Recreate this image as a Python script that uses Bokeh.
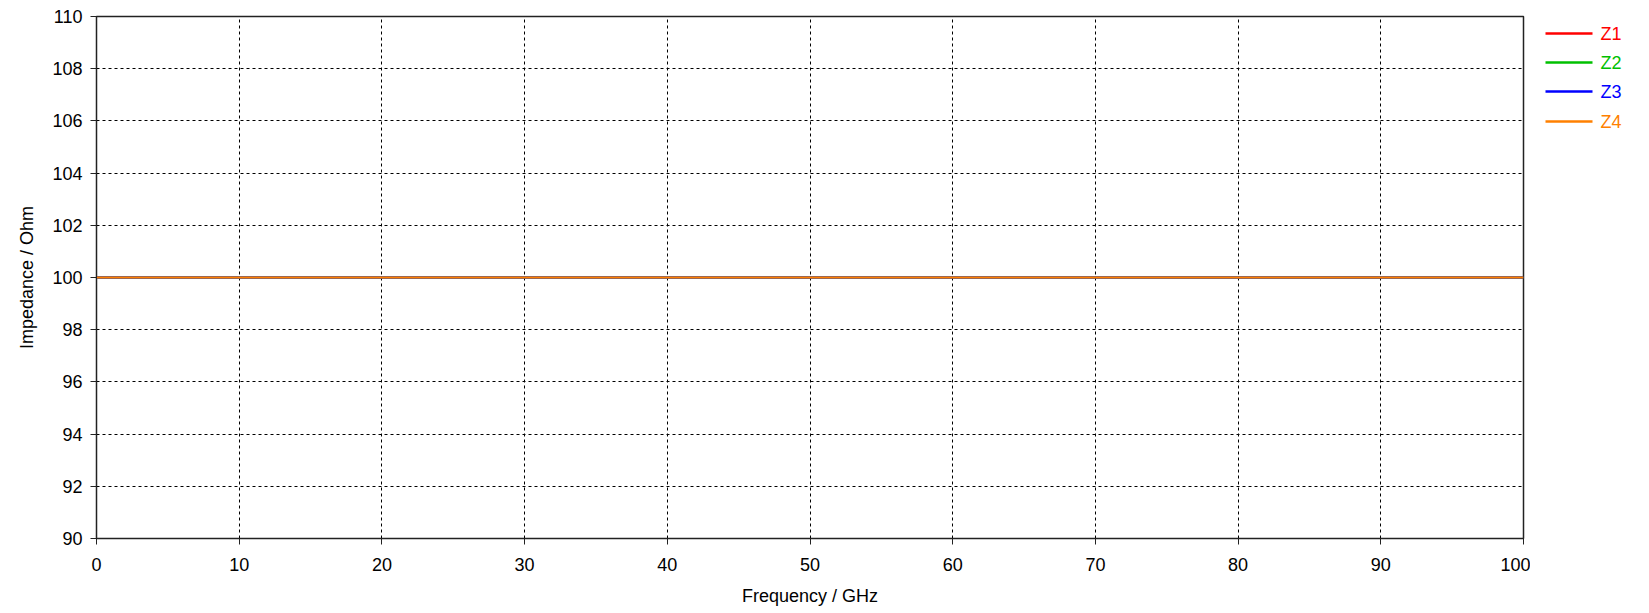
from bokeh.plotting import figure
from bokeh.models import Range1d, FixedTicker, ColumnDataSource
from bokeh.layouts import row
from bokeh.embed import file_html
from bokeh.resources import INLINE
from bokeh.core.properties import value

# ---- data ----
freq_ghz = [0, 10, 20, 30, 40, 50, 60, 70, 80, 90, 100]
z1 = [100.0, 100.0, 100.0, 100.0, 100.0, 100.0, 100.0, 100.0, 100.0, 100.0, 100.0]
z2 = [100.0, 100.0, 100.0, 100.0, 100.0, 100.0, 100.0, 100.0, 100.0, 100.0, 100.0]
z3 = [100.0, 100.0, 100.0, 100.0, 100.0, 100.0, 100.0, 100.0, 100.0, 100.0, 100.0]
z4 = [100.0, 100.0, 100.0, 100.0, 100.0, 100.0, 100.0, 100.0, 100.0, 100.0, 100.0]
series_names = ["Z1", "Z2", "Z3", "Z4"]
series_colors = ["#FF0000", "#00C000", "#0000FF", "#FF8000"]
x_ticks = [0, 10, 20, 30, 40, 50, 60, 70, 80, 90, 100]
y_ticks = [90, 92, 94, 96, 98, 100, 102, 104, 106, 108, 110]

FONT = "Liberation Sans"
FS = "18px"

p = figure(width=1530, height=613, output_backend="svg", toolbar_location=None,
           x_range=Range1d(0, 100), y_range=Range1d(90, 110),
           min_border_left=96, min_border_right=7, min_border_top=16, min_border_bottom=75)
p.background_fill_color = "white"
p.border_fill_color = "white"
p.outline_line_color = "#222222"
p.outline_line_width = 1.5

for vals, c in zip([z1, z2, z3, z4], series_colors):
    p.line(freq_ghz, vals, line_color=c, line_width=2)

for ax in (p.xaxis, p.yaxis):
    ax.axis_line_color = "#222222"
    ax.major_tick_line_color = "#222222"
    ax.major_tick_out = 6
    ax.major_tick_in = 0
    ax.minor_tick_line_color = None
    ax.major_label_text_font = FONT
    ax.major_label_text_font_size = FS
    ax.major_label_text_color = "black"
    ax.axis_label_text_font = FONT
    ax.axis_label_text_font_size = FS
    ax.axis_label_text_font_style = "normal"
    ax.axis_label_text_color = "black"

p.xaxis.ticker = FixedTicker(ticks=x_ticks)
p.yaxis.ticker = FixedTicker(ticks=y_ticks)
p.xaxis.axis_label = "Frequency / GHz"
p.yaxis.axis_label = "Impedance / Ohm"
p.xaxis.major_label_standoff = 13
p.yaxis.major_label_standoff = 8
p.xaxis.axis_label_standoff = 12
p.yaxis.axis_label_standoff = 12

for g in (p.xgrid, p.ygrid):
    g.grid_line_color = "black"
    g.grid_line_width = 1
    g.grid_line_dash = "3 3"

# ---- legend panel (its frame is aligned with the main frame: pixels 16..538) ----
lg = figure(width=119, height=613, output_backend="svg", toolbar_location=None,
            x_range=Range1d(0, 119), y_range=Range1d(538, 16),
            min_border_left=0, min_border_right=0, min_border_top=16, min_border_bottom=75)
lg.axis.visible = False
lg.xgrid.visible = False
lg.ygrid.visible = False
lg.outline_line_color = None
lg.background_fill_color = "white"
lg.border_fill_color = "white"

rows_y = [33, 62, 91, 121]
src = ColumnDataSource(dict(x0=[15] * 4, x1=[62] * 4, y=rows_y, tx=[70] * 4,
                            name=series_names, color=series_colors))
lg.segment(x0="x0", y0="y", x1="x1", y1="y", line_color="color", line_width=2.5, source=src)
lg.text(x="tx", y="y", text="name", text_color="color", text_font=value(FONT),
        text_font_size=FS, text_baseline="middle", text_align="left", source=src)

layout = row(p, lg)
open("out.html", "w").write(file_html(layout, INLINE))
